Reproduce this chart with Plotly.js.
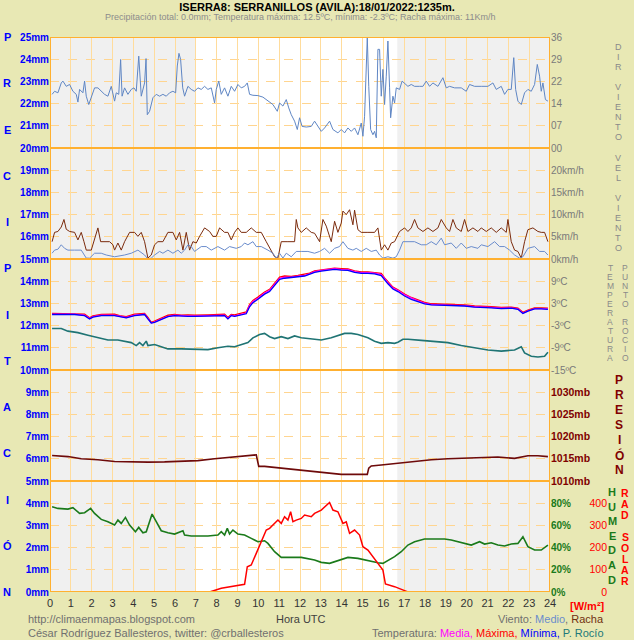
<!DOCTYPE html>
<html><head><meta charset="utf-8">
<script src="https://cdn.plot.ly/plotly-3.0.1.min.js"></script>
<style>html,body{margin:0;padding:0;background:#e8e8b4;}#chart{width:634px;height:640px;}</style>
</head><body><div id="chart"></div>
<script>
// ---------------- DATA ----------------
const hourTicks = [0,1,2,3,4,5,6,7,8,9,10,11,12,13,14,15,16,17,18,19,20,21,22,23,24];
const mmTicks = [0,1,2,3,4,5,6,7,8,9,10,11,12,13,14,15,16,17,18,19,20,21,22,23,24,25];
const dirTickVals = [0,7.2,14.4,21.6,28.8,36];
const dirTickText = ['00','07','14','22','29','36'];
const speedTicks = [0,5,10,15,20];
const tempTicks = [-15,-9,-3,3,9];
const presTicks = [1010,1015,1020,1025,1030];
const humTicks = [0,20,40,60,80];
const radTicks = [0,100,200,300,400];
const daylight = [7.0, 16.67];

// wind direction (tens of degrees) [hour, value]
const windDir = [[0.10,17.4],[0.22,18.4],[0.38,17.9],[0.54,21.1],[0.62,21.7],[0.78,20.0],[0.94,20.6],[1.10,18.4],[1.26,17.4],[1.34,14.9],[1.42,19.0],[1.58,17.9],[1.66,21.7],[1.74,16.8],[1.86,14.1],[1.98,16.3],[2.14,19.5],[2.30,19.5],[2.46,18.4],[2.62,17.4],[2.78,16.8],[2.94,20.0],[3.10,15.2],[3.18,17.9],[3.30,17.4],[3.39,28.7],[3.46,16.8],[3.58,19.5],[3.74,17.4],[3.90,19.0],[4.03,19.5],[4.14,18.4],[4.26,29.8],[4.32,23.3],[4.38,16.8],[4.54,21.1],[4.61,29.0],[4.67,10.8],[4.78,11.9],[4.94,16.3],[5.10,17.4],[5.26,16.8],[5.42,17.4],[5.58,16.8],[5.74,17.9],[5.90,18.4],[6.03,17.9],[6.11,26.6],[6.19,30.7],[6.27,28.7],[6.37,19.5],[6.46,16.8],[6.62,20.0],[6.78,19.0],[6.94,18.4],[7.10,19.5],[7.26,19.0],[7.42,20.0],[7.58,19.0],[7.74,19.5],[7.90,14.6],[7.98,19.0],[8.10,21.7],[8.22,17.4],[8.38,19.5],[8.54,16.8],[8.70,20.0],[8.86,18.4],[9.02,20.6],[9.18,19.5],[9.34,20.0],[9.47,21.1],[9.58,17.4],[9.74,17.1],[9.98,17.0],[10.22,16.5],[10.46,15.2],[10.70,14.1],[10.91,11.9],[11.02,14.6],[11.18,13.6],[11.34,15.7],[11.46,13.0],[11.58,10.8],[11.74,8.7],[11.87,6.0],[11.98,9.8],[12.10,7.0],[12.30,6.8],[12.54,7.0],[12.70,8.7],[12.86,7.0],[13.02,5.4],[13.18,6.5],[13.42,8.7],[13.58,6.0],[13.82,4.9],[13.98,6.0],[14.14,4.9],[14.30,6.5],[14.46,5.4],[14.62,6.5],[14.78,4.3],[14.94,8.1],[15.02,3.8],[15.10,10.3],[15.18,29.8],[15.23,35.8],[15.30,20.0],[15.39,6.0],[15.50,4.3],[15.58,5.4],[15.66,3.3],[15.74,32.0],[15.82,32.0],[15.90,16.8],[15.98,25.5],[16.06,14.1],[16.14,23.3],[16.22,34.7],[16.30,19.5],[16.35,9.8],[16.46,16.8],[16.54,14.6],[16.62,19.5],[16.78,19.0],[16.90,21.7],[17.02,21.1],[17.18,20.0],[17.34,20.6],[17.50,20.0],[17.74,20.0],[17.90,20.0],[18.06,21.7],[18.22,20.0],[18.38,21.1],[18.62,20.0],[18.86,22.8],[19.02,19.5],[19.18,20.0],[19.42,19.5],[19.74,19.5],[19.98,18.4],[20.14,20.6],[20.38,20.0],[20.70,20.0],[21.02,20.0],[21.26,21.1],[21.42,19.0],[21.66,20.0],[21.82,17.4],[21.98,19.0],[22.14,19.0],[22.26,29.3],[22.35,19.0],[22.46,15.2],[22.62,14.1],[22.78,17.9],[22.94,19.0],[23.10,18.4],[23.26,20.6],[23.39,27.1],[23.50,23.3],[23.58,18.4],[23.66,21.1],[23.78,15.7],[23.90,15.2]];

// wind gust km/h [hour, value]
const windGust = [[0.10,3.9],[0.22,6.0],[0.38,6.2],[0.54,7.2],[0.67,8.9],[0.78,6.7],[0.94,6.2],[1.18,6.0],[1.34,4.3],[1.50,6.0],[1.63,3.9],[1.74,2.0],[1.98,2.0],[2.14,4.3],[2.30,7.0],[2.43,3.9],[2.62,3.9],[2.86,3.9],[3.02,3.2],[3.10,2.0],[3.26,3.6],[3.42,2.0],[3.58,3.9],[3.82,6.0],[4.06,6.0],[4.22,5.1],[4.38,6.0],[4.54,3.9],[4.70,0.2],[4.86,0.9],[5.02,3.2],[5.18,3.9],[5.42,3.9],[5.66,6.0],[5.90,6.0],[6.06,4.3],[6.22,6.0],[6.38,2.0],[6.54,6.0],[6.70,2.0],[6.86,3.9],[7.02,3.6],[7.18,5.1],[7.42,7.0],[7.66,6.2],[7.82,5.1],[7.98,5.1],[8.14,7.0],[8.38,6.0],[8.54,6.0],[8.70,4.3],[8.86,6.0],[9.02,7.0],[9.18,6.0],[9.42,6.0],[9.66,7.0],[9.90,6.0],[10.14,6.0],[10.38,3.9],[10.62,2.0],[10.78,0.5],[10.94,0.2],[11.10,3.9],[11.42,3.9],[11.74,3.9],[11.82,8.9],[11.90,7.0],[12.06,6.0],[12.30,7.0],[12.54,6.0],[12.70,5.8],[12.94,3.9],[13.10,8.9],[13.26,7.4],[13.50,3.9],[13.66,8.5],[13.82,6.0],[13.98,8.1],[14.06,10.8],[14.22,10.0],[14.38,11.1],[14.54,7.7],[14.62,11.0],[14.78,6.6],[14.94,6.0],[15.26,6.0],[15.58,6.0],[15.74,7.0],[15.90,2.0],[16.06,3.2],[16.22,2.0],[16.38,3.6],[16.54,3.9],[16.78,6.2],[17.02,7.0],[17.18,6.2],[17.34,7.0],[17.50,8.9],[17.66,7.0],[17.90,6.2],[18.14,7.0],[18.38,6.2],[18.62,7.0],[18.78,8.9],[19.02,7.0],[19.18,6.2],[19.34,8.9],[19.50,7.0],[19.74,6.2],[19.90,8.9],[20.06,6.2],[20.30,7.0],[20.54,6.2],[20.70,7.0],[20.94,6.2],[21.18,7.0],[21.42,6.0],[21.66,7.0],[21.90,6.0],[21.98,8.9],[22.14,3.9],[22.30,2.0],[22.46,1.7],[22.62,0.2],[22.78,3.9],[22.94,6.6],[23.18,7.0],[23.42,6.2],[23.58,6.0],[23.74,6.0],[23.90,3.9]];

// mean wind km/h [hour, value]
const windMean = [[0.10,1.3],[0.22,2.0],[0.38,2.2],[0.54,3.2],[0.70,2.4],[0.86,2.0],[1.18,2.0],[1.50,2.0],[1.74,0.2],[1.90,0.2],[2.14,1.3],[2.46,1.3],[2.70,0.9],[3.10,0.5],[3.58,0.9],[3.90,1.3],[4.22,2.0],[4.54,0.9],[4.70,0.0],[4.86,0.2],[5.02,0.9],[5.26,1.7],[5.42,1.3],[5.66,2.0],[5.90,1.3],[6.14,2.0],[6.30,1.3],[6.46,2.0],[6.62,3.2],[6.78,2.8],[6.94,1.7],[7.26,2.8],[7.50,2.8],[7.74,2.0],[8.06,2.8],[8.38,2.0],[8.62,2.8],[8.94,2.4],[9.18,2.8],[9.34,3.6],[9.50,3.2],[9.74,3.9],[9.90,2.8],[10.14,2.8],[10.46,2.0],[10.70,1.3],[10.86,0.2],[11.02,1.3],[11.18,0.2],[11.34,1.3],[11.58,0.5],[11.82,1.7],[12.06,1.7],[12.38,1.7],[12.70,1.3],[12.94,1.7],[13.18,2.4],[13.42,1.3],[13.66,2.4],[13.90,2.8],[14.06,3.9],[14.30,2.4],[14.54,2.0],[14.70,2.4],[14.94,1.7],[15.18,2.4],[15.42,1.7],[15.66,2.0],[15.82,0.9],[15.98,0.2],[16.22,0.5],[16.46,0.2],[16.62,0.5],[16.78,2.0],[16.94,3.9],[17.18,3.9],[17.50,3.9],[17.82,3.2],[18.06,3.2],[18.30,3.9],[18.54,3.2],[18.78,4.7],[18.94,3.2],[19.26,3.6],[19.50,2.4],[19.74,3.6],[19.98,2.4],[20.22,2.8],[20.54,2.4],[20.70,3.2],[21.02,2.8],[21.34,3.9],[21.58,2.8],[21.82,2.8],[22.06,2.0],[22.30,0.9],[22.54,0.2],[22.70,0.5],[22.94,2.4],[23.26,2.8],[23.50,1.7],[23.74,1.7],[23.90,0.9]];

// temperature ºC
const tempHours = [0.10,0.54,1.18,1.66,1.90,2.06,2.46,3.10,3.34,3.66,4.06,4.54,4.70,4.86,5.02,5.34,5.66,5.98,6.30,6.62,6.94,7.58,8.06,8.22,8.38,8.54,8.70,8.86,9.18,9.42,9.58,9.74,9.98,10.30,10.54,10.78,11.02,11.26,11.58,11.90,12.22,12.46,12.70,13.02,13.34,13.66,13.98,14.30,14.62,14.94,15.26,15.58,15.90,16.06,16.22,16.46,16.70,17.02,17.34,17.66,17.98,18.30,18.78,19.26,19.90,20.38,20.70,21.18,21.66,22.14,22.46,22.70,22.94,23.26,23.58,23.90];
const tempMean = [0.1,0.1,0.1,-0.2,-1.1,-0.6,-0.2,-0.2,-0.5,-0.8,-0.2,0.1,-1.1,-2.3,-2.0,-1.3,-0.5,-0.2,-0.4,-0.4,-0.4,-0.4,-0.2,-0.4,-0.2,-1.1,-0.2,-0.4,0.1,0.4,2.4,3.5,4.4,5.8,6.5,8.1,9.8,10.1,10.1,10.4,10.6,11.0,11.6,11.9,12.2,12.4,12.2,12.1,11.6,11.3,11.3,11.2,10.8,9.6,8.6,7.2,6.5,5.3,4.4,3.7,3.1,2.7,2.6,2.6,2.4,2.1,2.1,1.9,1.7,1.8,1.5,0.4,1.0,1.6,1.6,1.5];
const tempMax = [0.3,0.3,0.3,0.1,-0.9,-0.4,0.0,0.1,-0.3,-0.6,0.1,0.3,-0.8,-2.1,-1.8,-1.1,-0.2,0.0,-0.2,-0.1,-0.2,-0.1,0.0,-0.1,0.1,-0.8,0.0,-0.1,0.3,0.7,2.7,3.8,4.7,6.1,6.8,8.4,10.1,10.4,10.3,10.6,10.9,11.2,11.8,12.1,12.4,12.5,12.4,12.3,11.8,11.5,11.5,11.4,11.1,9.9,8.8,7.4,6.7,5.5,4.6,3.9,3.3,2.9,2.8,2.8,2.6,2.3,2.3,2.1,1.9,2.0,1.7,0.6,1.2,1.8,1.8,1.7];
const tempMin = [0.0,0.0,0.0,-0.3,-1.2,-0.7,-0.3,-0.3,-0.6,-0.9,-0.3,0.0,-1.2,-2.3,-2.1,-1.4,-0.6,-0.3,-0.5,-0.5,-0.5,-0.5,-0.3,-0.5,-0.3,-1.2,-0.3,-0.5,0.0,0.2,2.1,3.2,4.1,5.5,6.2,7.8,9.5,9.8,9.9,10.2,10.4,10.8,11.4,11.7,12.0,12.2,12.0,11.9,11.4,11.1,11.1,11.0,10.5,9.3,8.3,6.9,6.2,5.0,4.1,3.5,2.9,2.6,2.5,2.5,2.3,2.0,2.0,1.8,1.6,1.7,1.4,0.3,0.9,1.5,1.5,1.4];

// dew point ºC [hour, value]
const dewPoint = [[0.10,-3.8],[0.54,-3.8],[0.86,-4.5],[1.34,-4.9],[1.82,-5.6],[2.30,-6.3],[2.78,-6.9],[3.26,-6.9],[3.58,-7.2],[3.90,-7.6],[4.14,-8.4],[4.30,-7.6],[4.46,-8.4],[4.62,-7.2],[4.70,-8.4],[5.02,-8.1],[5.34,-8.7],[5.66,-9.3],[6.30,-9.3],[6.94,-9.5],[7.58,-9.5],[8.06,-9.0],[8.54,-8.6],[8.86,-8.7],[9.18,-8.1],[9.50,-7.6],[9.74,-6.3],[10.06,-5.4],[10.30,-5.1],[10.54,-6.0],[10.78,-6.5],[11.10,-6.0],[11.42,-6.5],[11.74,-5.8],[12.06,-6.3],[12.54,-6.5],[13.02,-6.9],[13.50,-6.3],[13.82,-5.6],[14.14,-5.1],[14.46,-5.1],[14.78,-5.4],[15.26,-6.3],[15.58,-7.2],[15.90,-7.8],[16.22,-7.6],[16.54,-7.8],[16.70,-7.5],[16.94,-6.7],[17.18,-6.7],[17.82,-7.0],[18.46,-7.3],[19.10,-7.6],[19.74,-8.4],[20.38,-9.0],[21.02,-9.6],[21.66,-9.9],[22.30,-9.6],[22.62,-8.7],[22.78,-10.4],[23.10,-11.3],[23.42,-11.5],[23.74,-11.3],[23.90,-10.2]];

// pressure mb [hour, value]
const pressure = [[0.10,1015.75],[0.86,1015.5],[1.50,1015.0],[2.30,1014.8],[3.10,1014.4],[3.90,1014.25],[4.70,1014.25],[5.50,1014.3],[6.30,1014.4],[7.10,1014.6],[7.90,1015.0],[8.70,1015.4],[9.50,1015.75],[9.90,1015.9],[10.02,1013.3],[10.30,1013.3],[11.10,1012.9],[11.90,1012.5],[12.70,1012.1],[13.50,1011.8],[13.98,1011.5],[14.62,1011.5],[15.23,1011.5],[15.30,1012.9],[15.42,1013.4],[15.90,1013.6],[16.70,1014.0],[17.50,1014.4],[18.30,1014.8],[19.10,1015.0],[19.90,1015.15],[20.70,1015.4],[21.50,1015.4],[22.30,1015.1],[22.94,1015.7],[23.42,1015.7],[23.90,1015.5]];

// relative humidity % [hour, value]
const humidity = [[0.10,76.8],[0.38,75.3],[0.86,74.7],[1.10,75.9],[1.42,70.8],[1.66,71.4],[1.95,75.3],[2.14,70.8],[2.46,65.4],[2.78,63.3],[3.10,60.3],[3.26,64.8],[3.42,61.8],[3.62,67.2],[3.82,60.3],[4.10,54.3],[4.26,58.2],[4.46,53.4],[4.62,54.3],[4.90,70.2],[5.10,63.3],[5.34,55.2],[5.66,53.4],[5.98,52.2],[6.38,55.2],[6.46,51.3],[6.78,50.4],[7.26,50.4],[7.58,50.4],[8.06,51.3],[8.22,54.3],[8.38,51.3],[8.51,57.3],[8.62,52.2],[8.78,55.8],[9.02,52.2],[9.34,51.3],[9.66,48.3],[9.98,45.3],[10.30,46.2],[10.46,43.8],[10.78,36.3],[11.10,31.2],[11.74,31.2],[12.06,31.2],[12.70,28.8],[13.02,26.7],[13.42,25.8],[13.66,27.3],[13.98,29.4],[14.30,31.2],[14.78,30.3],[15.26,28.2],[15.74,26.4],[15.98,25.8],[16.22,28.2],[16.54,31.8],[16.86,36.3],[17.18,42.3],[17.50,45.3],[17.98,47.7],[18.46,47.7],[18.94,47.7],[19.26,46.8],[19.74,44.4],[20.22,42.3],[20.62,45.3],[20.86,43.2],[21.18,44.4],[21.50,42.3],[21.82,41.4],[22.14,43.2],[22.46,43.8],[22.70,49.8],[22.94,40.8],[23.26,37.8],[23.58,37.8],[23.90,42.3]];

// solar radiation W/m2 [hour, value]
const radiation = [[0,0],[7.66,0],[8.22,16.5],[8.86,28.5],[9.34,34.5],[9.47,114],[9.66,121.5],[9.90,174],[10.14,226.5],[10.38,279],[10.54,286.5],[10.70,301.5],[10.94,324],[11.10,309],[11.26,339],[11.42,324],[11.55,361.5],[11.66,316.5],[11.82,324],[12.06,331.5],[12.22,346.5],[12.54,339],[12.70,354],[13.02,369],[13.26,391.5],[13.42,403.5],[13.58,369],[13.82,361.5],[14.06,309],[14.22,316.5],[14.38,264],[14.62,279],[14.86,256.5],[15.02,204],[15.26,189],[15.50,159],[15.74,129],[15.98,99],[16.10,36],[16.54,24],[17.02,6],[17.18,0],[24,0]];

// ---------------- LAYOUT HELPERS ----------------
const W=634, H=640, ML=50, MR=27, MT=37, MB=48;
const PW=W-ML-MR, PH=H-MT-MB;
const xEnd = 500/PW;
const px = v => (v-ML)/PW;
const py = v => 1-(v-MT)/PH;
const FONT = 'Liberation Sans, Arial, sans-serif';

const col = a => a.map(p=>p[0]);
const val = a => a.map(p=>p[1]);

const traces = [
  {x:col(windDir), y:val(windDir), yaxis:'y2', mode:'lines', line:{color:'#5f86c4', width:1}},
  {x:col(windGust), y:val(windGust), yaxis:'y3', mode:'lines', line:{color:'#7a2a0c', width:1}},
  {x:col(windMean), y:val(windMean), yaxis:'y3', mode:'lines', line:{color:'#6a8ccc', width:1}},
  {x:tempHours, y:tempMax, yaxis:'y4', mode:'lines', line:{color:'#ff0000', width:1.3}},
  {x:tempHours, y:tempMean, yaxis:'y4', mode:'lines', line:{color:'#ff00ff', width:1.3}},
  {x:tempHours, y:tempMin, yaxis:'y4', mode:'lines', line:{color:'#0000ff', width:1.3}},
  {x:col(dewPoint), y:val(dewPoint), yaxis:'y4', mode:'lines', line:{color:'#1f7474', width:1.6}},
  {x:col(pressure), y:val(pressure), yaxis:'y5', mode:'lines', line:{color:'#6e0a0a', width:1.6}},
  {x:col(humidity), y:val(humidity), yaxis:'y6', mode:'lines', line:{color:'#1a7a1a', width:1.6}},
  {x:col(radiation), y:val(radiation), yaxis:'y7', mode:'lines', line:{color:'#ff0000', width:1.5}}
];
traces.forEach(t=>{t.showlegend=false; t.hoverinfo='skip'; t.xaxis='x';});

const tickFontX = {family:FONT, size:11, color:'#333333'};
const greyFont = {family:FONT, size:10, color:'#7a7a7a'};

const rightAxis = (domain, range, vals, text, font) => ({
  domain, range, tickvals:vals, ticktext:text, side:'right', anchor:'x',
  showgrid:false, zeroline:false, showline:false, ticks:'', tickfont:font, fixedrange:true
});

const annotations = [];
function stack(str, xPx, y0Px, step, font){
  [...str].forEach((ch,i)=>{
    if(ch===' ') return;
    annotations.push({xref:'paper', yref:'paper', x:px(xPx), y:py(y0Px+i*step), text:ch,
      showarrow:false, xanchor:'center', yanchor:'middle', font});
  });
}
// left vertical word
[...'PRECIPITACIÓN'].forEach((ch,i)=>{
  annotations.push({xref:'paper', yref:'paper', x:px(7), y:py(37+i*46.25), text:ch, showarrow:false,
    xanchor:'center', yanchor:'middle', font:{family:FONT, size:11, color:'#0000ff', weight:'bold'}});
});
const vGrey = {family:FONT, size:9, color:'#8a8a8a'};
const vGreySm = {family:FONT, size:8.5, color:'#8a8a8a'};
stack('DIR VIENTO', 618, 47, 10, vGrey);
stack('VEL VIENTO', 618, 158, 10, vGrey);
stack('TEMPERATURA', 610, 268, 9, vGreySm);
stack('PUNTO ROCIO', 625, 268, 9, vGreySm);
stack('PRESIÓN', 619, 380, 15, {family:FONT, size:12, color:'#800000', weight:'bold'});
stack('HUMEDAD', 612, 492, 14.6, {family:FONT, size:11, color:'#1a7a1a', weight:'bold'});
stack('RAD SOLAR', 625, 493, 11, {family:FONT, size:10.5, color:'#ff0000', weight:'bold'});

annotations.push(
  {xref:'paper', yref:'paper', x:px(300), y:py(17.5), text:'Precipitación total: 0.0mm; Temperatura máxima: 12.5ºC, mínima: -2.3ºC; Racha máxima: 11Km/h',
   showarrow:false, xanchor:'center', yanchor:'middle', font:{family:FONT, size:9, color:'#8c8c8c'}},
  {xref:'paper', yref:'paper', x:px(587), y:py(606), text:'[W/m²]', showarrow:false, xanchor:'center', yanchor:'middle',
   font:{family:FONT, size:11, color:'#ff0000', weight:'bold'}},
  {xref:'paper', yref:'paper', x:px(26), y:py(619), text:'http://climaenmapas.blogspot.com', showarrow:false, xanchor:'left', yanchor:'middle',
   font:{family:FONT, size:11, color:'#707070'}},
  {xref:'paper', yref:'paper', x:px(26), y:py(633), text:'César Rodríguez Ballesteros, twitter: @crballesteros', showarrow:false, xanchor:'left', yanchor:'middle',
   font:{family:FONT, size:11, color:'#707070'}},
  {xref:'paper', yref:'paper', x:px(301), y:py(619), text:'Hora UTC', showarrow:false, xanchor:'center', yanchor:'middle',
   font:{family:FONT, size:11, color:'#404040'}},
  {xref:'paper', yref:'paper', x:px(606), y:py(619), text:'Viento: <span style="color:#6a8ccc">Medio</span>, <span style="color:#703010">Racha</span>', showarrow:false, xanchor:'right', yanchor:'middle',
   font:{family:FONT, size:11, color:'#707070'}},
  {xref:'paper', yref:'paper', x:px(606), y:py(633), text:'Temperatura: <span style="color:#ff00ff">Media,</span> <span style="color:#ff0000">Máxima,</span> <span style="color:#0000ff">Mínima,</span> <span style="color:#207878">P. Rocío</span>', showarrow:false, xanchor:'right', yanchor:'middle',
   font:{family:FONT, size:11, color:'#707070'}}
);

const shapes = [
  {type:'rect', xref:'x', yref:'paper', x0:0, x1:24, y0:0, y1:1, fillcolor:'#ffffff', line:{width:0}, layer:'below'},
  {type:'rect', xref:'x', yref:'paper', x0:0, x1:daylight[0], y0:0, y1:1, fillcolor:'#f0f0f0', line:{width:0}, layer:'below'},
  {type:'rect', xref:'x', yref:'paper', x0:daylight[1], x1:24, y0:0, y1:1, fillcolor:'#f0f0f0', line:{width:0}, layer:'below'}
];
[5,10,15,20].forEach(v=>shapes.push({type:'line', xref:'x', yref:'y', x0:0, x1:24, y0:v, y1:v, line:{color:'#ffb030', width:2}, layer:'above'}));
shapes.push({type:'rect', xref:'x', yref:'y', x0:0, x1:24, y0:0, y1:25, line:{color:'#ffb030', width:2}, fillcolor:'rgba(0,0,0,0)', layer:'above'});

const layout = {
  width:W, height:H,
  margin:{l:ML, r:MR, t:MT, b:MB, pad:0},
  paper_bgcolor:'#e8e8b4', plot_bgcolor:'rgba(0,0,0,0)',
  showlegend:false,
  title:{text:'ISERRA8: SERRANILLOS (AVILA):18/01/2022:1235m.', x:0.5, xref:'container', xanchor:'center',
         y:1-7/H, yref:'container', yanchor:'middle', font:{family:FONT, size:11, color:'#000000', weight:'bold'}},
  xaxis:{domain:[0,xEnd], range:[0,24], tickvals:hourTicks, ticks:'', showgrid:true, gridcolor:'#ffdc9c', gridwidth:1,
         zeroline:false, showline:false, tickfont:tickFontX, anchor:'y', fixedrange:true, ticklabelstandoff:3},
  xaxis2:{domain:[0,xEnd], range:[0,24], tickvals:hourTicks, ticks:'', overlaying:'x', side:'top', anchor:'y',
         showgrid:false, zeroline:false, showline:false, tickfont:tickFontX, fixedrange:true},
  yaxis:{domain:[0,1], range:[0,25], tickvals:mmTicks, ticktext:mmTicks.map(v=>v+'mm'), ticks:'', anchor:'x',
         showgrid:true, gridcolor:'#ffd590', griddash:'dash', gridwidth:1, zeroline:false, showline:false,
         tickfont:{family:FONT, size:10, color:'#0000ff', weight:'bold'}, fixedrange:true},
  yaxis2: rightAxis([0.8,1], [0,36], dirTickVals, dirTickText, greyFont),
  yaxis3: rightAxis([0.6,0.8], [0,25], speedTicks, speedTicks.map(v=>v+'km/h'), greyFont),
  yaxis4: rightAxis([0.4,0.6], [-15,15], tempTicks, tempTicks.map(v=>v+'ºC'), greyFont),
  yaxis5: rightAxis([0.2,0.4], [1010,1035], presTicks, presTicks.map(v=>v+'mb'), {family:FONT, size:10.5, color:'#800000', weight:'bold'}),
  yaxis6: rightAxis([0,0.2], [0,100], humTicks, humTicks.map(v=>v+'%'), {family:FONT, size:10, color:'#1a7a1a', weight:'bold'}),
  yaxis7: {overlaying:'y6', range:[0,500], tickvals:radTicks, ticktext:radTicks.map(String), side:'left', anchor:'free', position:1,
           showgrid:false, zeroline:false, showline:false, ticks:'', tickfont:{family:FONT, size:10.5, color:'#ff0000'}, fixedrange:true},
  shapes, annotations
};

Plotly.newPlot('chart', traces, layout, {staticPlot:true, displayModeBar:false});
</script></body></html>
